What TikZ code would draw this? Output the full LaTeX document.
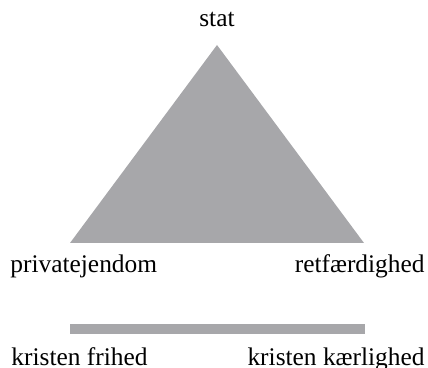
\documentclass[tikz,border=0pt]{standalone}
\usepackage{fontspec}
\setmainfont{Liberation Serif}
\definecolor{triangray}{RGB}{167,167,170}
\begin{document}
\begin{tikzpicture}[x=0.5pt,y=-0.5pt,every node/.style = {font = {\fontsize{12.7}{15}\selectfont}, inner sep=0pt}]
        \useasboundingbox (0,0) rectangle (428,368);
        % triangle
        \coordinate (top) at (217,45);
        \coordinate (bl) at (70,243);
        \coordinate (br) at (364,243);
        \fill[triangray] (top) -- (br) -- (bl) -- cycle;
        \node[anchor=base] (stat) at (217,27) {stat};
        \node[anchor=base west] (privat) at (10,273) {privatejendom};
        \node[anchor=base east] (ret) at (425,273) {retfærdighed};

        % bar
        \fill[triangray] (70,324) rectangle (365,334);
        \node[anchor=base west] (frihed) at (11,365) {kristen frihed};
        \node[anchor=base east] (kaer) at (425,365) {kristen kærlighed};
    \end{tikzpicture}
\end{document}
